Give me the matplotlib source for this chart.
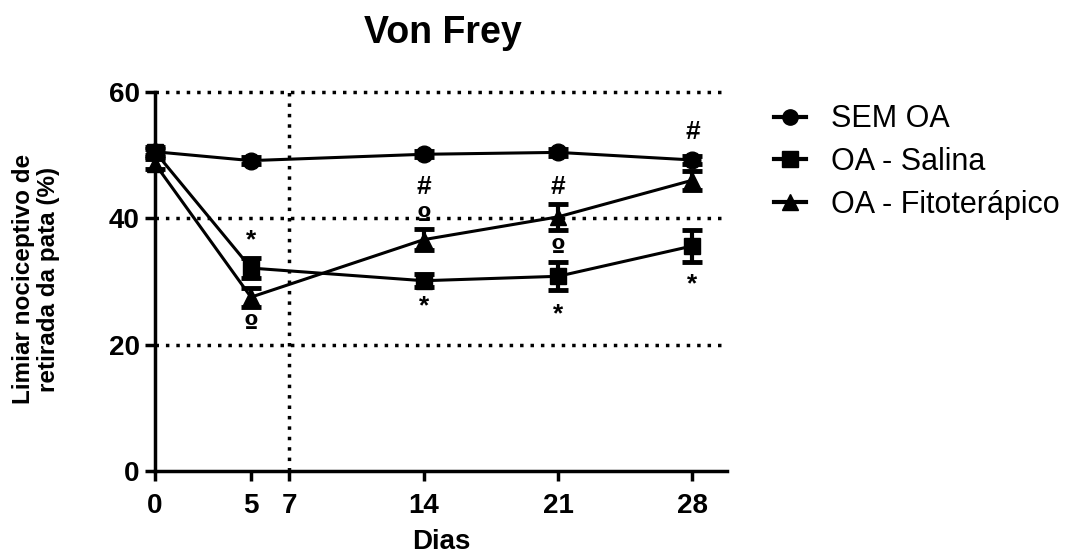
import matplotlib
matplotlib.use('Agg')
import matplotlib.pyplot as plt

plt.rcParams['font.family'] = ['Liberation Sans', 'DejaVu Sans']

# Data
dias = [0, 5, 14, 21, 28]
sem_oa = [50.5, 49.1, 50.1, 50.4, 49.2]
sem_oa_err = [0.5, 0.5, 0.5, 0.5, 0.6]
oa_salina = [50.5, 32.1, 30.1, 30.8, 35.6]
oa_salina_err = [0.8, 1.6, 1.0, 2.2, 2.6]
oa_fito = [48.6, 27.5, 36.6, 40.2, 46.0]
oa_fito_err = [0.8, 1.5, 1.7, 2.0, 1.5]

# significance marks: (day, y, symbol)
marks = [(5, 36.5, '*'), (5, 22.8, 'º'),
         (14, 44.9, '#'), (14, 39.8, 'º'), (14, 26.0, '*'),
         (21, 44.9, '#'), (21, 34.8, 'º'), (21, 24.8, '*'),
         (28, 53.6, '#'), (28, 29.6, '*')]

fig = plt.figure(figsize=(10.78, 5.56), dpi=100)
ax = fig.add_axes([155 / 1078, 1 - 471 / 556, 572 / 1078, 379.3 / 556])

dot = (0, (1, 2))
for yy in [20, 40, 60]:
    ax.axhline(yy, color='black', lw=2.5, ls=dot, zorder=1, clip_on=False)
ax.axvline(7, color='black', lw=2.5, ls=dot, zorder=1)

series = [(sem_oa, sem_oa_err, 'o', 12, 'SEM OA'),
          (oa_salina, oa_salina_err, 's', 11, 'OA - Salina'),
          (oa_fito, oa_fito_err, '^', 12, 'OA - Fitoterápico')]
for vals, err, mk, ms, lab in series:
    ax.errorbar(dias, vals, yerr=err, color='black', marker=mk, markersize=ms,
                lw=2.2, elinewidth=3, capsize=7, capthick=3.5, label=lab,
                zorder=3, clip_on=False)

for d, yy, s in marks:
    fam = ['DejaVu Sans'] if s == 'º' else ['Liberation Sans']
    ax.text(d, yy, s, ha='center', va='center', fontsize=19, family=fam,
            fontweight='bold', zorder=4)

ax.set_xlim(0, 29.8)
ax.set_ylim(0, 60)
ax.set_xticks([0, 5, 7, 14, 21, 28])
ax.set_yticks([0, 20, 40, 60])
ax.spines['top'].set_visible(False)
ax.spines['right'].set_visible(False)
for sp in ['left', 'bottom']:
    ax.spines[sp].set_linewidth(2.5)
ax.tick_params(width=2.5, length=7, labelsize=20)
ax.tick_params(axis='x', pad=9)
ax.tick_params(axis='y', pad=4)
for lbl in ax.get_xticklabels() + ax.get_yticklabels():
    lbl.set_fontweight('bold')

ax.set_xlabel('Dias', fontsize=20, fontweight='bold', labelpad=7)
fig.text(36 / 1078, 1 - 279 / 556, 'Limiar nociceptivo de\nretirada da pata (%)',
         rotation=90, ha='center', va='center', multialignment='center',
         fontsize=17.5, fontweight='bold', linespacing=1.15)
fig.text(443 / 1078, 1 - 33 / 556, 'Von Frey', ha='center', va='center',
         fontsize=27, fontweight='bold')

handles, labels = ax.get_legend_handles_labels()
handles = [h[0] for h in handles]
leg = ax.legend(handles, labels, loc='upper left',
                bbox_to_anchor=(762 / 1078, 1 - 92 / 556),
                bbox_transform=fig.transFigure, borderaxespad=0,
                frameon=False, fontsize=22, handlelength=1.05,
                labelspacing=0.42, handletextpad=0.8)
for h in leg.legend_handles:
    h.set_markersize(11)
    h.set_linewidth(3)

plt.savefig('out.png', dpi=100)
